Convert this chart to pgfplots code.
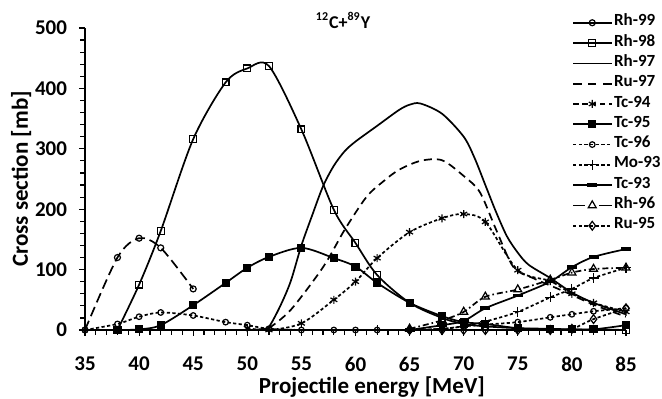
\documentclass[border=0pt]{standalone}
\usepackage{pgfplots}
\pgfplotsset{compat=1.18}
\usepackage{fontspec}
\setmainfont{Carlito}
\begin{document}
\begin{tikzpicture}
\useasboundingbox (-42.5pt,-34.5pt) rectangle (288.5pt,165pt);
\begin{axis}[
 at={(0pt,0pt)}, anchor=south west,
 scale only axis, width=270.5pt, height=151pt,
 xmin=35, xmax=85, ymin=0, ymax=500,
 axis lines=left, axis line style={-, line width=0.75pt},
 xtick={35,40,...,85}, ytick={0,100,...,500},
 minor x tick num=4, minor y tick num=4,
 tick align=outside, major tick length=3pt, minor tick length=2.5pt,
 tick style={black, line width=0.6pt},
 ticklabel style={font=\bfseries\fontsize{10.5}{12}\selectfont},
 /pgf/number format/assume math mode=true,
 xticklabel style={yshift=-7pt},
 yticklabel style={xshift=-2.5pt},
 xlabel={Projectile energy [MeV]}, ylabel={Cross section [mb]},
 label style={font=\bfseries\fontsize{11.5}{13}\selectfont},
 xlabel style={at={(axis description cs:0.5305,-0.2119)}, anchor=base},
 ylabel style={at={(axis description cs:-0.1054,0.5)}, anchor=base},
 legend style={at={(axis description cs:0.9002,1.0523)}, anchor=north west, draw=none, fill=none,
   inner sep=0pt, row sep=0pt, font=\bfseries\fontsize{8.5}{9}\selectfont,
   nodes={inner sep=0pt, text height=6.6pt, text depth=3.55pt},
   /tikz/every odd column/.append style={column sep=1pt}},
 legend cell align=left,
 legend image code/.code={\draw[mark repeat=2,mark phase=2] plot coordinates {(0pt,0pt) (9.5pt,0pt) (19pt,0pt)};},
 clip mode=individual,
 every axis plot/.append style={line width=0.85pt, smooth, tension=0.5},
]
% Rh-99
\addplot[black, dash pattern=on 5pt off 2.5pt, mark=o, mark size=1.5pt, mark options={solid, line width=0.6pt},
 legend image post style={solid}]
 coordinates {(35,0)(38,120)(40,152)(42,136)(45,68)};
\addlegendentry{Rh-99}
% Rh-98
\addplot[black, mark=square, mark size=1.7pt, mark options={solid, line width=0.6pt}]
 coordinates {(38,0)(40,75)(42,164)(45,316)(48,410)(50,433)(52,437)(55,332)(58,199)(60,144)(62,91)(65,45)(68,20)(70,10)(72,6)(75,3)(78,2)(80,1)(82,1)(85,0)};
\addlegendentry{Rh-98}
% Rh-97
\addplot[black]
 coordinates {(50.5,0)(51.5,2)(52,5)(53,38)(54,80)(55,140)(56,190)(57,238)(58,272)(59,296)(60,312)(62,338)(64,364)(65,373)(66,375)(68,358)(70,320)(71,285)(72,240)(73,195)(74,155)(75,128)(76,108)(78,86)(80,62)(82,45)(85,26)};
\addlegendentry{Rh-97}
% Ru-97
\addplot[black, dash pattern=on 4pt off 2.5pt, legend image post style={dash pattern=on 4pt off 3.5pt}]
 coordinates {(52,3)(54,33)(57,104)(59,166)(61,220)(62.5,245)(64,265)(66,280)(68,281)(70,255)(71.5,228)(73,166)(74.6,104)(76.4,86)(79,66)(82,42)(85,22)};
\addlegendentry{Ru-97}
% Tc-94
\addplot[black, dash pattern=on 1.6pt off 1.2pt, mark=asterisk, mark size=2pt, mark options={solid, line width=0.6pt},
 legend image post style={dash pattern=on 2.5pt off 2pt}]
 coordinates {(50,3)(52,0)(55,11)(58,50)(60,80)(62,119)(65,162)(68,185)(70,192)(72,179)(75,99)(78,81)(80,60)(82,45)(85,30)};
\addlegendentry{Tc-94}
% Tc-95
\addplot[black, mark=square*, mark size=1.6pt, mark options={solid}]
 coordinates {(38,0)(40,1)(42,8)(45,41)(48,78)(50,103)(52,121)(55,136)(58,119)(60,105)(62,78)(65,45)(68,23)(70,13)(72,10)(75,3)(78,1)(80,1)(82,1)(85,8)};
\addlegendentry{Tc-95}
% Tc-96
\addplot[black, dash pattern=on 1.6pt off 1.2pt, mark=o, mark size=1.4pt, mark options={solid, line width=0.6pt}]
 coordinates {(35,0)(38,10)(40,22)(42,29)(45,24)(48,13)(50,8)(52,2)(55,0)(58,0)(60,0)(62,0)(65,0)(68,2)(70,6)(72,9)(75,13)(78,21)(80,26)(82,31)(85,36)};
\addlegendentry{Tc-96}
% Mo-93
\addplot[black, dash pattern=on 1.6pt off 1.2pt, mark=+, mark size=2.5pt, mark options={solid, line width=0.6pt}]
 coordinates {(62,0)(65,0)(68,2)(70,6)(72,14)(75,30)(78,54)(80,68)(82,86)(85,103)};
\addlegendentry{Mo-93}
% Tc-93
\addplot[black, mark=-, mark size=2.5pt, mark options={solid, line width=1.8pt}]
 coordinates {(65,0)(68,8)(70,15)(72,36)(75,57)(78,80)(80,104)(82,121)(85,134)};
\addlegendentry{Tc-93}
% Rh-96
\addplot[black, dash pattern=on 3pt off 1.5pt on 0.8pt off 1.5pt, mark=triangle, mark size=2.3pt, mark options={solid, line width=0.6pt},
 legend image post style={dash pattern=on 6pt off 7pt on 6pt}]
 coordinates {(65,2)(68,16)(70,30)(72,55)(75,67)(78,83)(80,95)(82,101)(85,103)};
\addlegendentry{Rh-96}
% Ru-95
\addplot[black, dash pattern=on 1.6pt off 1.2pt, mark=diamond, mark size=2.2pt, mark options={solid, line width=0.6pt}]
 coordinates {(65,0)(68,0)(70,0)(72,0)(75,0)(78,0)(80,2)(82,18)(85,36)};
\addlegendentry{Ru-95}
\node[anchor=base, font=\bfseries\fontsize{9}{10}\selectfont] at (axis description cs:0.477,0.999) {\textsuperscript{12}C+\textsuperscript{89}Y};
\end{axis}
\end{tikzpicture}
\end{document}
